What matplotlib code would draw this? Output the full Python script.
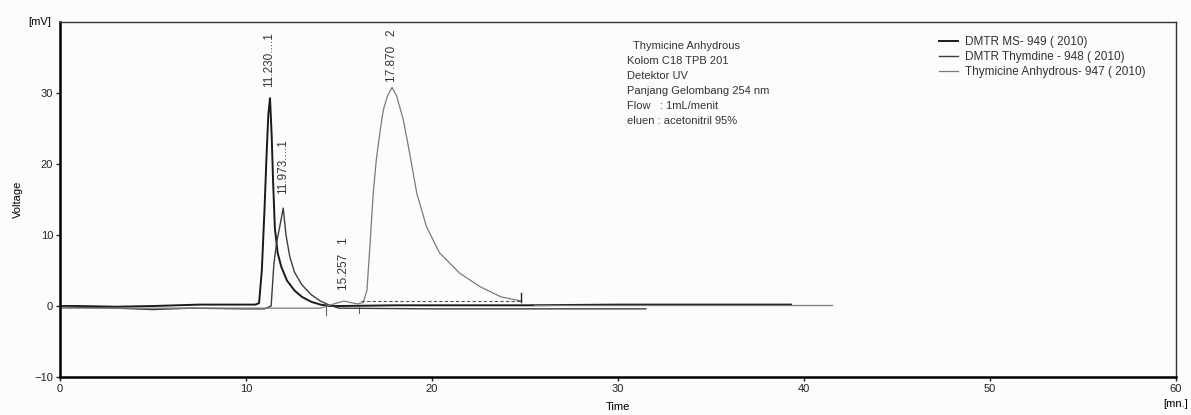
import numpy as np
import matplotlib.pyplot as plt

plt.rcParams['font.family'] = ['Liberation Sans', 'DejaVu Sans']

# trace 1: DMTR MS-949 (peak 11.230)
t_ms = [0, 1, 3, 5, 7.5, 10.5, 10.7, 10.85, 11.0, 11.1, 11.2, 11.29, 11.38, 11.45, 11.55, 11.7, 11.9,
        12.2, 12.6, 13.0, 13.5, 14.0, 14.5, 15.0, 18, 25, 30, 35, 37.5, 39.3]
v_ms = [0, 0, -0.1, 0, 0.2, 0.2, 0.4, 5, 14, 21, 27, 29.3, 24, 18, 11, 7.5, 5.5,
        3.6, 2.2, 1.3, 0.6, 0.2, 0, 0, 0.1, 0.1, 0.2, 0.2, 0.2, 0.2]

# trace 2: DMTR Thymdine-948 (peak 11.973)
t_thy = [0, 3, 5, 7, 10, 11.0, 11.35, 11.5, 11.65, 11.8, 12.0, 12.15, 12.35, 12.6, 13.0, 13.5,
         14.0, 14.5, 15, 20, 25, 31.5]
v_thy = [-0.1, -0.3, -0.5, -0.3, -0.4, -0.4, 0, 6, 9, 11, 13.8, 10, 7, 4.8, 3.0, 1.6,
         0.7, 0.1, -0.3, -0.4, -0.4, -0.4]

# trace 3: Thymicine Anhydrous-947 (peaks 15.257, 17.870)
t_an = [0, 5, 10, 14, 14.6, 15.0, 15.26, 15.6, 16.0, 16.3, 16.5, 16.65, 16.84, 17.0, 17.2, 17.38, 17.6,
        17.85, 18.1, 18.46, 18.8, 19.18, 19.7, 20.4, 21.5, 22.6, 23.7, 24.8]
v_an = [-0.3, -0.3, -0.3, -0.3, 0.2, 0.5, 0.7, 0.5, 0.3, 0.5, 2.2, 8, 15.9, 20.5, 24.5, 27.6, 29.6,
        30.8, 29.6, 26.2, 21.5, 15.9, 11.2, 7.5, 4.6, 2.7, 1.3, 0.7]
t_an_tail = [25.5, 28, 30, 35, 40, 41.5]
v_an_tail = [0.2, 0.2, 0.2, 0.2, 0.2, 0.2]

peak_t = [11.26, 11.97, 15.257, 17.87]
peak_v = [30.8, 15.8, 2.2, 31.5]
peak_lbl = ['11.230....1', '11.973....1', '15.257   1', '17.870   2']

legend_lbl = ['DMTR MS- 949 ( 2010)', 'DMTR Thymdine - 948 ( 2010)', 'Thymicine Anhydrous- 947 ( 2010)']
info_lines = ['Thymicine Anhydrous', 'Kolom C18 TPB 201', 'Detektor UV',
              'Panjang Gelombang 254 nm', 'Flow   : 1mL/menit', 'eluen : acetonitril 95%']

fig = plt.figure(figsize=(11.91, 4.15), dpi=100, facecolor='#fcfcfc')
ax = fig.add_axes([0.0504, 0.0916, 0.937, 0.855])
ax.set_facecolor('#fcfcfc')

l1, = ax.plot(t_ms, v_ms, color='#1a1a1a', lw=1.4)
l2, = ax.plot(t_thy, v_thy, color='#3c3c3c', lw=1.0)
l3, = ax.plot(t_an, v_an, color='#7a7a7a', lw=0.9)
ax.plot(t_an_tail, v_an_tail, color='#7a7a7a', lw=0.9)

# integration baseline + markers
ax.plot([16.2, 24.8], [0.7, 0.7], color='#555555', lw=0.8, ls=(0, (3, 2)))
ax.plot([24.8, 24.8], [0.6, 1.8], color='#222222', lw=1.0)
ax.plot([14.3, 14.3], [-1.2, 0.2], color='#555555', lw=0.7)
ax.plot([16.1, 16.1], [-1.0, 0.0], color='#555555', lw=0.7)

for t, v, s in zip(peak_t, peak_v, peak_lbl):
    ax.text(t, v, s, rotation=90, ha='center', va='bottom', fontsize=8.5, color='#333333')

y0 = 36.6
for i, s in enumerate(info_lines):
    ax.text(30.8 if i == 0 else 30.5, y0 - i * 2.1, s, fontsize=8, color='#333333', va='center')

ax.legend([l1, l2, l3], legend_lbl, loc='upper left', bbox_to_anchor=(0.778, 0.99), frameon=False,
          fontsize=8.5, handlelength=1.6, handletextpad=0.6, labelspacing=0.25, labelcolor='#333333')

ax.set_xlim(0, 60)
ax.set_ylim(-10, 40)
ax.set_xticks(np.arange(0, 61, 10))
ax.set_yticks([-10, 0, 10, 20, 30])
ax.tick_params(labelsize=8, length=3, width=1, colors='#222222', pad=2)
ax.set_ylabel('Voltage', fontsize=8, labelpad=8)
ax.set_xlabel('Time', fontsize=8, labelpad=6)
for sp in ['left', 'bottom']:
    ax.spines[sp].set_linewidth(1.8)
for sp in ['top', 'right']:
    ax.spines[sp].set_linewidth(1.0)
    ax.spines[sp].set_color('#333333')

ax.text(-0.008, 1.0, '[mV]', transform=ax.transAxes, ha='right', va='center', fontsize=8)
ax.text(1.0, -0.076, '[mn.]', transform=ax.transAxes, ha='center', va='center', fontsize=8)

fig.savefig('out.png', dpi=100, facecolor=fig.get_facecolor())
